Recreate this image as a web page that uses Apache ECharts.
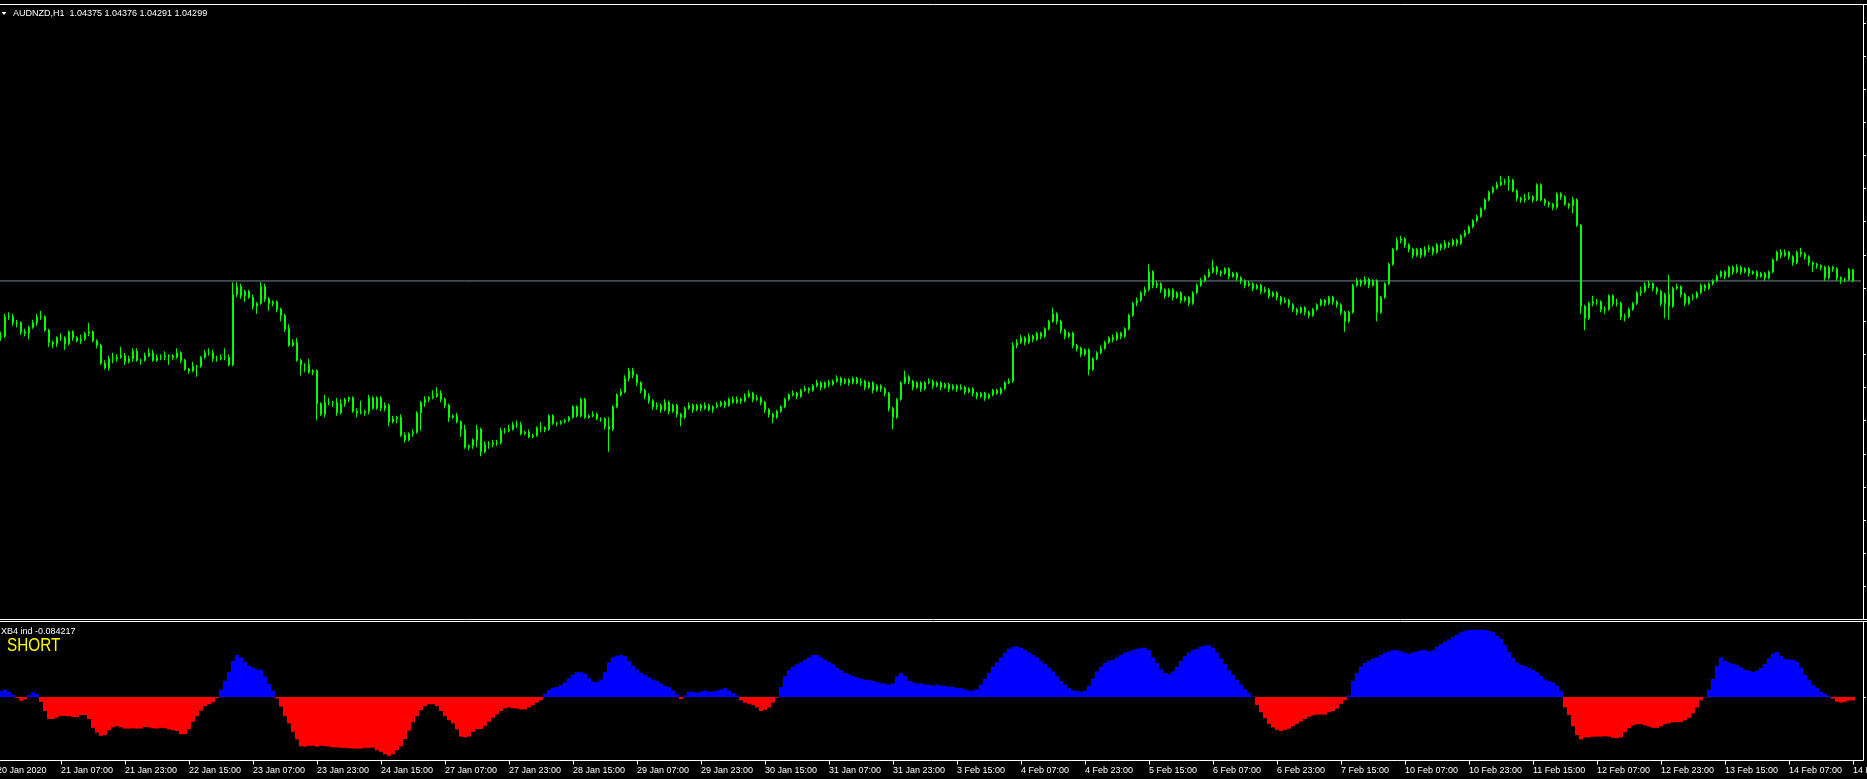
<!DOCTYPE html>
<html>
<head>
<meta charset="utf-8">
<script src="https://cdn.jsdelivr.net/npm/echarts@6/dist/echarts.min.js"></script>
<style>
  html, body { margin: 0; padding: 0; background: #000; }
  #chart { width: 1867px; height: 779px; }
</style>
</head>
<body>
<div id="chart"></div>
<script>
// AUDNZD H1 candles, one per hour from 20 Jan 2020 15:00 to 14 Feb 2020 23:00
const openP = [1.0393,1.0393,1.0393,1.0406,1.0406,1.0402,1.0402,1.0396,1.0395,1.0399,
1.0402,1.0406,1.0406,1.0397,1.0389,1.0388,1.0392,1.0392,1.0388,1.0396,
1.0392,1.0390,1.0391,1.0395,1.0396,1.0390,1.0387,1.0375,1.0372,1.0378,
1.0378,1.0379,1.0380,1.0376,1.0378,1.0383,1.0377,1.0377,1.0380,1.0382,
1.0377,1.0379,1.0379,1.0380,1.0380,1.0379,1.0382,1.0377,1.0371,1.0370,
1.0373,1.0373,1.0379,1.0382,1.0382,1.0378,1.0378,1.0379,1.0379,1.0374,
1.0421,1.0426,1.0420,1.0423,1.0419,1.0413,1.0415,1.0426,1.0418,1.0415,
1.0416,1.0411,1.0407,1.0398,1.0387,1.0389,1.0377,1.0374,1.0374,1.0369,
1.0370,1.0348,1.0341,1.0349,1.0349,1.0349,1.0342,1.0348,1.0351,1.0352,
1.0343,1.0342,1.0342,1.0343,1.0352,1.0345,1.0352,1.0345,1.0347,1.0336,
1.0338,1.0339,1.0327,1.0324,1.0328,1.0329,1.0342,1.0349,1.0351,1.0352,
1.0353,1.0355,1.0351,1.0347,1.0339,1.0340,1.0336,1.0331,1.0319,1.0320,
1.0324,1.0331,1.0316,1.0321,1.0321,1.0322,1.0322,1.0330,1.0330,1.0331,
1.0334,1.0334,1.0328,1.0329,1.0326,1.0327,1.0332,1.0332,1.0331,1.0340,
1.0335,1.0335,1.0336,1.0337,1.0339,1.0346,1.0340,1.0351,1.0339,1.0340,
1.0341,1.0338,1.0338,1.0333,1.0331,1.0346,1.0354,
1.0356,1.0365,1.0370,1.0367,1.0362,1.0357,1.0353,1.0350,1.0346,1.0347,
1.0344,1.0349,1.0343,1.0347,1.0341,1.0339,1.0345,1.0347,1.0344,1.0347,
1.0345,1.0347,1.0344,1.0346,1.0347,1.0349,1.0347,1.0351,1.0349,1.0351,
1.0350,1.0353,1.0355,1.0351,1.0352,1.0349,1.0344,1.0341,1.0339,1.0343,
1.0346,1.0351,1.0354,1.0355,1.0353,1.0357,1.0358,1.0357,1.0360,1.0362,
1.0359,1.0362,1.0361,1.0363,1.0365,1.0362,1.0364,1.0362,1.0365,1.0362,
1.0363,1.0359,1.0362,1.0357,1.0360,1.0358,1.0355,1.0345,1.0339,1.0351,
1.0362,1.0366,1.0363,1.0359,1.0362,1.0358,1.0362,1.0363,1.0360,1.0362,
1.0359,1.0361,1.0358,1.0360,1.0358,1.0359,1.0356,1.0358,1.0355,1.0353,
1.0355,1.0352,1.0354,1.0357,1.0355,1.0358,1.0362,1.0363,1.0387,1.0389,
1.0392,1.0389,1.0393,1.0391,1.0395,1.0393,1.0398,1.0403,1.0408,1.0403,
1.0397,1.0393,1.0395,1.0387,1.0385,1.0381,1.0384,1.0371,1.0378,1.0382,
1.0385,1.0389,1.0392,1.0391,1.0395,1.0393,1.0398,1.0407,1.0415,1.0417,
1.0422,1.0424,1.0436,1.0427,1.0428,1.0424,1.0420,1.0424,1.0419,1.0422,
1.0417,1.0419,1.0415,1.0422,1.0427,1.0430,1.0433,1.0436,1.0439,1.0436,
1.0435,1.0438,1.0433,1.0435,1.0432,1.0430,1.0427,1.0428,1.0425,1.0427,
1.0423,1.0424,1.0420,1.0422,1.0419,1.0416,1.0417,1.0414,1.0411,1.0409,
1.0412,1.0409,1.0407,1.0411,1.0414,1.0417,1.0415,1.0419,1.0416,1.0414,
1.0409,1.0403,1.0409,1.0427,1.0430,1.0428,1.0431,1.0427,1.0430,1.0409,
1.0419,1.0428,1.0441,1.0451,1.0457,1.0458,1.0454,1.0451,1.0447,1.0451,
1.0447,1.0451,1.0452,1.0449,1.0454,1.0452,1.0455,1.0454,1.0457,1.0455,
1.0460,1.0462,1.0466,1.0470,1.0473,1.0478,1.0484,1.0489,1.0492,1.0494,
1.0496,1.0496,1.0497,1.0490,1.0485,1.0484,1.0485,1.0486,1.0484,1.0494,
1.0484,1.0482,1.0481,1.0479,1.0488,1.0486,1.0481,1.0480,1.0484,1.0467,
1.0413,1.0405,1.0415,1.0416,1.0416,1.0411,1.0411,1.0420,1.0415,1.0415,
1.0406,1.0406,1.0411,1.0415,1.0422,1.0423,1.0427,1.0428,1.0425,1.0423,
1.0415,1.0421,1.0413,1.0425,1.0426,1.0421,1.0415,1.0419,1.0419,1.0422,
1.0427,1.0425,1.0428,1.0430,1.0433,1.0436,1.0433,1.0439,1.0436,1.0439,
1.0436,1.0438,1.0435,1.0436,1.0433,1.0435,1.0432,1.0436,1.0444,1.0449,
1.0447,1.0449,1.0446,1.0442,1.0449,1.0448,1.0446,1.0442,1.0441,1.0440,
1.0439,1.0432,1.0439,1.0438,1.0432,1.0431,1.0431,1.04375];
const closeP = [1.0393,1.0393,1.0406,1.0406,1.0402,1.0402,1.0396,1.0395,1.0399,1.0402,
1.0406,1.0406,1.0397,1.0389,1.0388,1.0392,1.0392,1.0388,1.0396,1.0392,
1.0390,1.0391,1.0395,1.0396,1.0390,1.0387,1.0375,1.0372,1.0378,1.0378,
1.0379,1.0380,1.0376,1.0378,1.0383,1.0377,1.0377,1.0380,1.0382,1.0377,
1.0379,1.0379,1.0380,1.0380,1.0379,1.0382,1.0377,1.0371,1.0370,1.0373,
1.0373,1.0379,1.0382,1.0382,1.0378,1.0378,1.0379,1.0379,1.0374,1.0421,
1.0426,1.0420,1.0423,1.0419,1.0413,1.0415,1.0426,1.0418,1.0415,1.0416,
1.0411,1.0407,1.0398,1.0387,1.0389,1.0377,1.0374,1.0374,1.0369,1.0370,
1.0348,1.0341,1.0349,1.0349,1.0349,1.0342,1.0348,1.0351,1.0352,1.0343,
1.0342,1.0342,1.0343,1.0352,1.0345,1.0352,1.0345,1.0347,1.0336,1.0338,
1.0339,1.0327,1.0324,1.0328,1.0329,1.0342,1.0349,1.0351,1.0352,1.0353,
1.0355,1.0351,1.0347,1.0339,1.0340,1.0336,1.0331,1.0319,1.0320,1.0324,
1.0331,1.0316,1.0321,1.0321,1.0322,1.0322,1.0330,1.0330,1.0331,1.0334,
1.0334,1.0328,1.0329,1.0326,1.0327,1.0332,1.0332,1.0331,1.0340,1.0335,
1.0335,1.0336,1.0337,1.0339,1.0346,1.0340,1.0351,1.0339,1.0340,1.0341,
1.0338,1.0338,1.0333,1.0331,1.0346,1.0354,1.0356,
1.0365,1.0370,1.0367,1.0362,1.0357,1.0353,1.0350,1.0346,1.0347,1.0344,
1.0349,1.0343,1.0347,1.0341,1.0339,1.0345,1.0347,1.0344,1.0347,1.0345,
1.0347,1.0344,1.0346,1.0347,1.0349,1.0347,1.0351,1.0349,1.0351,1.0350,
1.0353,1.0355,1.0351,1.0352,1.0349,1.0344,1.0341,1.0339,1.0343,1.0346,
1.0351,1.0354,1.0355,1.0353,1.0357,1.0358,1.0357,1.0360,1.0362,1.0359,
1.0362,1.0361,1.0363,1.0365,1.0362,1.0364,1.0362,1.0365,1.0362,1.0363,
1.0359,1.0362,1.0357,1.0360,1.0358,1.0355,1.0345,1.0339,1.0351,1.0362,
1.0366,1.0363,1.0359,1.0362,1.0358,1.0362,1.0363,1.0360,1.0362,1.0359,
1.0361,1.0358,1.0360,1.0358,1.0359,1.0356,1.0358,1.0355,1.0353,1.0355,
1.0352,1.0354,1.0357,1.0355,1.0358,1.0362,1.0363,1.0387,1.0389,1.0392,
1.0389,1.0393,1.0391,1.0395,1.0393,1.0398,1.0403,1.0408,1.0403,1.0397,
1.0393,1.0395,1.0387,1.0385,1.0381,1.0384,1.0371,1.0378,1.0382,1.0385,
1.0389,1.0392,1.0391,1.0395,1.0393,1.0398,1.0407,1.0415,1.0417,1.0422,
1.0424,1.0436,1.0427,1.0428,1.0424,1.0420,1.0424,1.0419,1.0422,1.0417,
1.0419,1.0415,1.0422,1.0427,1.0430,1.0433,1.0436,1.0439,1.0436,1.0435,
1.0438,1.0433,1.0435,1.0432,1.0430,1.0427,1.0428,1.0425,1.0427,1.0423,
1.0424,1.0420,1.0422,1.0419,1.0416,1.0417,1.0414,1.0411,1.0409,1.0412,
1.0409,1.0407,1.0411,1.0414,1.0417,1.0415,1.0419,1.0416,1.0414,1.0409,
1.0403,1.0409,1.0427,1.0430,1.0428,1.0431,1.0427,1.0430,1.0409,1.0419,
1.0428,1.0441,1.0451,1.0457,1.0458,1.0454,1.0451,1.0447,1.0451,1.0447,
1.0451,1.0452,1.0449,1.0454,1.0452,1.0455,1.0454,1.0457,1.0455,1.0460,
1.0462,1.0466,1.0470,1.0473,1.0478,1.0484,1.0489,1.0492,1.0494,1.0496,
1.0496,1.0497,1.0490,1.0485,1.0484,1.0485,1.0486,1.0484,1.0494,1.0484,
1.0482,1.0481,1.0479,1.0488,1.0486,1.0481,1.0480,1.0484,1.0467,1.0413,
1.0405,1.0415,1.0416,1.0416,1.0411,1.0411,1.0420,1.0415,1.0415,1.0406,
1.0406,1.0411,1.0415,1.0422,1.0423,1.0427,1.0428,1.0425,1.0423,1.0415,
1.0421,1.0413,1.0425,1.0426,1.0421,1.0415,1.0419,1.0419,1.0422,1.0427,
1.0425,1.0428,1.0430,1.0433,1.0436,1.0433,1.0439,1.0436,1.0439,1.0436,
1.0438,1.0435,1.0436,1.0433,1.0435,1.0432,1.0436,1.0444,1.0449,1.0447,
1.0449,1.0446,1.0442,1.0449,1.0448,1.0446,1.0442,1.0441,1.0440,1.0439,
1.0432,1.0439,1.0438,1.0432,1.0431,1.0431,1.04375,1.04299];
const lowP = [1.0390,1.0390,1.0392,1.0404,1.0400,1.0399,1.0394,1.0393,1.0391,1.0398,
1.0400,1.0404,1.0396,1.0386,1.0385,1.0386,1.0390,1.0384,1.0387,1.0390,
1.0389,1.0388,1.0390,1.0393,1.0389,1.0385,1.0374,1.0371,1.0370,1.0375,
1.0376,1.0378,1.0374,1.0375,1.0376,1.0376,1.0374,1.0376,1.0379,1.0376,
1.0376,1.0377,1.0377,1.0374,1.0377,1.0378,1.0375,1.0370,1.0368,1.0369,
1.0366,1.0372,1.0378,1.0380,1.0376,1.0376,1.0377,1.0377,1.0373,1.0373,
1.0419,1.0418,1.0416,1.0418,1.0411,1.0408,1.0414,1.0416,1.0410,1.0413,
1.0409,1.0403,1.0396,1.0386,1.0386,1.0376,1.0367,1.0369,1.0368,1.0367,
1.0337,1.0340,1.0339,1.0347,1.0346,1.0340,1.0341,1.0346,1.0349,1.0342,
1.0339,1.0341,1.0340,1.0341,1.0344,1.0344,1.0343,1.0343,1.0333,1.0335,
1.0335,1.0326,1.0322,1.0323,1.0326,1.0328,1.0330,1.0346,1.0349,1.0351,
1.0352,1.0349,1.0345,1.0336,1.0338,1.0335,1.0326,1.0318,1.0317,1.0318,
1.0319,1.0313,1.0315,1.0318,1.0319,1.0320,1.0321,1.0328,1.0329,1.0330,
1.0332,1.0327,1.0327,1.0325,1.0325,1.0326,1.0329,1.0329,1.0330,1.0334,
1.0333,1.0334,1.0335,1.0336,1.0338,1.0339,1.0339,1.0338,1.0338,1.0339,
1.0337,1.0336,1.0331,1.0316,1.0330,1.0345,1.0353,
1.0355,1.0363,1.0365,1.0360,1.0355,1.0351,1.0348,1.0344,1.0344,1.0342,
1.0343,1.0341,1.0342,1.0339,1.0333,1.0338,1.0344,1.0342,1.0343,1.0343,
1.0344,1.0343,1.0342,1.0345,1.0346,1.0345,1.0346,1.0348,1.0348,1.0348,
1.0349,1.0352,1.0349,1.0350,1.0347,1.0342,1.0339,1.0335,1.0338,1.0342,
1.0345,1.0350,1.0353,1.0351,1.0352,1.0356,1.0355,1.0356,1.0359,1.0357,
1.0358,1.0359,1.0360,1.0362,1.0360,1.0361,1.0360,1.0361,1.0361,1.0360,
1.0357,1.0358,1.0355,1.0356,1.0356,1.0353,1.0343,1.0331,1.0338,1.0350,
1.0361,1.0361,1.0357,1.0358,1.0356,1.0357,1.0361,1.0358,1.0359,1.0357,
1.0358,1.0356,1.0357,1.0356,1.0357,1.0354,1.0355,1.0353,1.0351,1.0352,
1.0350,1.0351,1.0353,1.0354,1.0354,1.0357,1.0361,1.0362,1.0385,1.0388,
1.0387,1.0388,1.0389,1.0390,1.0391,1.0392,1.0397,1.0402,1.0401,1.0395,
1.0391,1.0392,1.0385,1.0383,1.0379,1.0380,1.0367,1.0370,1.0377,1.0381,
1.0384,1.0388,1.0389,1.0390,1.0391,1.0392,1.0397,1.0406,1.0413,1.0416,
1.0420,1.0423,1.0425,1.0425,1.0422,1.0418,1.0419,1.0417,1.0418,1.0415,
1.0416,1.0413,1.0414,1.0421,1.0426,1.0429,1.0432,1.0435,1.0434,1.0433,
1.0434,1.0431,1.0432,1.0430,1.0428,1.0425,1.0426,1.0423,1.0424,1.0421,
1.0422,1.0418,1.0419,1.0417,1.0414,1.0415,1.0412,1.0409,1.0407,1.0408,
1.0407,1.0405,1.0406,1.0410,1.0413,1.0413,1.0414,1.0414,1.0412,1.0407,
1.0396,1.0402,1.0408,1.0426,1.0426,1.0427,1.0425,1.0426,1.0403,1.0408,
1.0418,1.0427,1.0440,1.0450,1.0455,1.0452,1.0449,1.0445,1.0446,1.0445,
1.0446,1.0449,1.0447,1.0448,1.0450,1.0451,1.0452,1.0453,1.0453,1.0454,
1.0459,1.0461,1.0465,1.0469,1.0472,1.0477,1.0483,1.0488,1.0491,1.0493,
1.0494,1.0490,1.0489,1.0483,1.0482,1.0482,1.0484,1.0482,1.0483,1.0483,
1.0480,1.0479,1.0477,1.0478,1.0484,1.0480,1.0478,1.0475,1.0466,1.0408,
1.0397,1.0404,1.0413,1.0414,1.0409,1.0408,1.0410,1.0413,1.0413,1.0404,
1.0403,1.0405,1.0410,1.0414,1.0420,1.0422,1.0425,1.0423,1.0421,1.0413,
1.0405,1.0404,1.0412,1.0424,1.0419,1.0413,1.0414,1.0417,1.0418,1.0421,
1.0423,1.0424,1.0427,1.0429,1.0432,1.0431,1.0432,1.0434,1.0435,1.0434,
1.0435,1.0433,1.0434,1.0431,1.0432,1.0430,1.0431,1.0435,1.0443,1.0445,
1.0446,1.0444,1.0440,1.0441,1.0446,1.0444,1.0440,1.0436,1.0438,1.0437,
1.0430,1.0431,1.0436,1.0430,1.0428,1.0429,1.0430,1.04291];
const highP = [1.0395,1.0396,1.0408,1.0409,1.0408,1.0404,1.0403,1.0398,1.0400,1.0404,
1.0408,1.0410,1.0407,1.0398,1.0390,1.0393,1.0395,1.0393,1.0397,1.0397,
1.0393,1.0394,1.0396,1.0402,1.0397,1.0391,1.0388,1.0377,1.0380,1.0382,
1.0381,1.0386,1.0382,1.0380,1.0385,1.0385,1.0378,1.0382,1.0385,1.0384,
1.0381,1.0381,1.0383,1.0381,1.0381,1.0385,1.0383,1.0378,1.0372,1.0376,
1.0374,1.0380,1.0384,1.0385,1.0384,1.0380,1.0381,1.0385,1.0381,1.0429,
1.0429,1.0428,1.0424,1.0424,1.0421,1.0416,1.0429,1.0428,1.0419,1.0417,
1.0417,1.0412,1.0408,1.0401,1.0391,1.0392,1.0378,1.0375,1.0378,1.0371,
1.0371,1.0349,1.0354,1.0352,1.0350,1.0352,1.0351,1.0352,1.0353,1.0353,
1.0345,1.0350,1.0344,1.0354,1.0353,1.0353,1.0353,1.0349,1.0348,1.0340,
1.0340,1.0341,1.0329,1.0329,1.0331,1.0343,1.0350,1.0353,1.0353,1.0357,
1.0359,1.0357,1.0352,1.0348,1.0341,1.0342,1.0337,1.0334,1.0321,1.0325,
1.0334,1.0332,1.0323,1.0323,1.0324,1.0324,1.0332,1.0332,1.0334,1.0336,
1.0337,1.0336,1.0330,1.0331,1.0328,1.0333,1.0336,1.0333,1.0341,1.0341,
1.0336,1.0337,1.0338,1.0340,1.0347,1.0347,1.0352,1.0352,1.0341,1.0343,
1.0342,1.0339,1.0339,1.0339,1.0347,1.0355,1.0358,
1.0367,1.0372,1.0372,1.0368,1.0363,1.0358,1.0355,1.0351,1.0349,1.0348,
1.0351,1.0350,1.0348,1.0348,1.0342,1.0346,1.0349,1.0348,1.0348,1.0348,
1.0349,1.0348,1.0347,1.0349,1.0350,1.0350,1.0352,1.0353,1.0353,1.0352,
1.0355,1.0357,1.0356,1.0354,1.0353,1.0350,1.0345,1.0342,1.0344,1.0347,
1.0352,1.0355,1.0357,1.0356,1.0358,1.0360,1.0359,1.0361,1.0364,1.0363,
1.0363,1.0364,1.0364,1.0367,1.0366,1.0365,1.0365,1.0366,1.0366,1.0365,
1.0364,1.0363,1.0363,1.0361,1.0361,1.0359,1.0356,1.0346,1.0352,1.0363,
1.0370,1.0367,1.0364,1.0363,1.0363,1.0363,1.0365,1.0364,1.0363,1.0363,
1.0362,1.0362,1.0361,1.0361,1.0361,1.0360,1.0359,1.0359,1.0356,1.0356,
1.0356,1.0355,1.0358,1.0358,1.0359,1.0363,1.0365,1.0389,1.0391,1.0394,
1.0393,1.0395,1.0394,1.0396,1.0396,1.0399,1.0404,1.0412,1.0409,1.0404,
1.0398,1.0396,1.0396,1.0388,1.0386,1.0385,1.0385,1.0379,1.0383,1.0387,
1.0390,1.0393,1.0394,1.0396,1.0396,1.0399,1.0408,1.0416,1.0419,1.0423,
1.0426,1.0441,1.0437,1.0430,1.0429,1.0425,1.0425,1.0425,1.0423,1.0423,
1.0420,1.0420,1.0423,1.0428,1.0432,1.0434,1.0438,1.0444,1.0440,1.0437,
1.0439,1.0439,1.0436,1.0436,1.0433,1.0431,1.0430,1.0429,1.0428,1.0428,
1.0426,1.0425,1.0423,1.0423,1.0420,1.0419,1.0418,1.0415,1.0412,1.0413,
1.0413,1.0410,1.0412,1.0415,1.0418,1.0418,1.0420,1.0420,1.0417,1.0415,
1.0410,1.0410,1.0428,1.0432,1.0431,1.0433,1.0432,1.0431,1.0431,1.0420,
1.0429,1.0442,1.0452,1.0459,1.0460,1.0459,1.0455,1.0452,1.0452,1.0452,
1.0453,1.0454,1.0453,1.0455,1.0455,1.0457,1.0456,1.0458,1.0458,1.0461,
1.0464,1.0467,1.0471,1.0474,1.0479,1.0485,1.0490,1.0493,1.0496,1.0500,
1.0498,1.0500,1.0498,1.0491,1.0486,1.0488,1.0489,1.0487,1.0495,1.0495,
1.0485,1.0483,1.0482,1.0489,1.0489,1.0487,1.0482,1.0486,1.0485,1.0468,
1.0414,1.0416,1.0420,1.0418,1.0417,1.0413,1.0421,1.0421,1.0418,1.0416,
1.0408,1.0412,1.0416,1.0423,1.0426,1.0429,1.0430,1.0429,1.0426,1.0424,
1.0422,1.0434,1.0426,1.0428,1.0427,1.0422,1.0420,1.0421,1.0423,1.0428,
1.0428,1.0429,1.0431,1.0434,1.0437,1.0437,1.0440,1.0440,1.0441,1.0440,
1.0439,1.0439,1.0437,1.0437,1.0436,1.0436,1.0437,1.0445,1.0450,1.0451,
1.0451,1.0450,1.0447,1.0450,1.0452,1.0449,1.0447,1.0443,1.0442,1.0441,
1.0440,1.0440,1.0440,1.0439,1.0433,1.0432,1.04385,1.04376];

// XB4 ind histogram, one value per candle
const xb4 = [0.15,0.15,0.18,0.13,0.05,-0.03,-0.09,-0.06,0.05,0.12,
0.08,-0.12,-0.35,-0.55,-0.55,-0.51,-0.47,-0.47,-0.48,-0.50,
-0.50,-0.45,-0.45,-0.55,-0.77,-0.89,-0.97,-0.95,-0.83,-0.76,
-0.73,-0.76,-0.79,-0.79,-0.78,-0.79,-0.79,-0.75,-0.76,-0.78,
-0.79,-0.77,-0.78,-0.81,-0.83,-0.85,-0.93,-0.93,-0.81,-0.62,
-0.48,-0.34,-0.23,-0.18,-0.13,-0.03,0.18,0.40,0.63,0.90,
1.05,0.99,0.88,0.78,0.73,0.69,0.68,0.51,0.33,0.16,
-0.04,-0.24,-0.48,-0.66,-0.87,-1.06,-1.23,-1.24,-1.22,-1.22,
-1.24,-1.22,-1.23,-1.24,-1.26,-1.26,-1.27,-1.27,-1.28,-1.29,
-1.29,-1.29,-1.27,-1.27,-1.27,-1.33,-1.37,-1.43,-1.47,-1.43,
-1.33,-1.23,-1.05,-0.84,-0.63,-0.48,-0.33,-0.23,-0.18,-0.18,
-0.23,-0.35,-0.48,-0.58,-0.66,-0.81,-0.99,-1.01,-0.99,-0.87,
-0.80,-0.80,-0.72,-0.62,-0.52,-0.43,-0.35,-0.28,-0.26,-0.28,
-0.29,-0.31,-0.31,-0.26,-0.20,-0.14,-0.08,0.08,0.18,0.23,
0.25,0.30,0.37,0.47,0.56,0.62,0.62,0.58,0.47,0.38,
0.38,0.44,0.63,0.87,0.99,1.03,
1.05,1.02,0.90,0.78,0.69,0.60,0.55,0.49,0.43,0.40,
0.34,0.28,0.25,0.16,0.07,-0.05,0.04,0.13,0.13,0.10,
0.13,0.16,0.13,0.13,0.16,0.19,0.22,0.16,0.10,0.04,
-0.08,-0.14,-0.17,-0.20,-0.26,-0.35,-0.32,-0.26,-0.14,-0.02,
0.25,0.52,0.67,0.76,0.82,0.87,0.93,0.99,1.05,1.05,
0.99,0.93,0.87,0.82,0.73,0.67,0.60,0.57,0.52,0.49,
0.46,0.43,0.43,0.40,0.37,0.34,0.34,0.31,0.34,0.52,
0.60,0.52,0.40,0.37,0.34,0.34,0.31,0.31,0.28,0.31,
0.28,0.28,0.25,0.25,0.22,0.22,0.19,0.16,0.16,0.19,
0.31,0.46,0.60,0.76,0.87,0.99,1.11,1.20,1.26,1.26,
1.23,1.17,1.11,1.05,0.99,0.90,0.82,0.73,0.64,0.52,
0.40,0.31,0.22,0.16,0.16,0.13,0.16,0.28,0.46,0.64,
0.76,0.85,0.90,0.93,0.99,1.05,1.11,1.14,1.17,1.20,
1.23,1.23,1.17,0.99,0.85,0.69,0.60,0.57,0.64,0.76,
0.90,1.02,1.11,1.17,1.20,1.26,1.29,1.29,1.23,1.11,
0.96,0.82,0.67,0.55,0.43,0.31,0.19,0.10,0.01,-0.20,
-0.38,-0.53,-0.67,-0.76,-0.82,-0.85,-0.82,-0.79,-0.73,-0.67,
-0.61,-0.55,-0.49,-0.46,-0.44,-0.44,-0.44,-0.38,-0.35,-0.29,
-0.17,-0.08,0.04,0.40,0.60,0.76,0.85,0.90,0.96,0.99,
1.05,1.11,1.14,1.17,1.17,1.14,1.11,1.08,1.11,1.14,
1.17,1.17,1.14,1.17,1.26,1.32,1.38,1.44,1.50,1.56,
1.62,1.65,1.68,1.68,1.68,1.68,1.68,1.65,1.62,1.53,
1.45,1.30,1.13,0.98,0.86,0.80,0.78,0.72,0.68,0.62,
0.53,0.44,0.40,0.36,0.28,0.15,-0.26,-0.45,-0.73,-0.95,
-1.06,-1.01,-1.01,-0.99,-0.99,-0.99,-0.98,-0.99,-1.02,-1.03,
-1.01,-0.88,-0.78,-0.71,-0.68,-0.68,-0.71,-0.74,-0.77,-0.77,
-0.73,-0.68,-0.66,-0.63,-0.63,-0.63,-0.58,-0.52,-0.41,-0.26,
-0.08,-0.01,0.18,0.45,0.78,0.99,0.90,0.86,0.83,0.80,
0.74,0.68,0.66,0.63,0.66,0.73,0.83,0.97,1.09,1.13,
1.03,0.95,0.94,0.93,0.88,0.74,0.55,0.43,0.30,0.23,
0.13,0.08,0.03,-0.04,-0.12,-0.14,-0.12,-0.09,-0.084217];

const tickLabels = ['20 Jan 2020','21 Jan 07:00','21 Jan 23:00','22 Jan 15:00','23 Jan 07:00','23 Jan 23:00',
  '24 Jan 15:00','27 Jan 07:00','27 Jan 23:00','28 Jan 15:00','29 Jan 07:00','29 Jan 23:00','30 Jan 15:00',
  '31 Jan 07:00','31 Jan 23:00','3 Feb 15:00','4 Feb 07:00','4 Feb 23:00','5 Feb 15:00','6 Feb 07:00',
  '6 Feb 23:00','7 Feb 15:00','10 Feb 07:00','10 Feb 23:00','11 Feb 15:00','12 Feb 07:00','12 Feb 23:00',
  '13 Feb 15:00','14 Feb 07:00','14 Feb 23:00'];
const barsPerLabel = 16;
const slotCount = 467;          // 465 bars plus a small right shift
const bidPrice = 1.04299;
const titleText = 'AUDNZD,H1  1.04375 1.04376 1.04291 1.04299';
const indText = 'XB4 ind -0.084217';

const cats = [];
for (let i = 0; i < slotCount; i++) cats.push(i);
const candleData = closeP.map((c, i) => [openP[i], c, lowP[i], highP[i]]);
const xb4Up = xb4.map(v => v > 0 ? v : '-');
const xb4Down = xb4.map(v => v < 0 ? v : '-');
const showTick = i => i % barsPerLabel === 0 && i / barsPerLabel < tickLabels.length;
const font = 'Liberation Sans';

const chart = echarts.init(document.getElementById('chart'));
const frame = (x1, y1, x2, y2) => ({
  type: 'line', silent: true, z: 100,
  shape: { x1: x1, y1: y1, x2: x2, y2: y2 },
  style: { stroke: '#ffffff', lineWidth: 1 }
});

chart.setOption({
  backgroundColor: '#000000',
  animation: false,
  grid: [
    { left: -5, top: 4.5, width: 1868, height: 615, containLabel: false, outerBoundsMode: 'none' },
    { left: -5, top: 621.5, width: 1868, height: 139, containLabel: false, outerBoundsMode: 'none' }
  ],
  xAxis: [
    { type: 'category', gridIndex: 0, data: cats, show: false },
    {
      type: 'category', gridIndex: 1, data: cats,
      axisLine: { show: false, onZero: false },
      axisTick: { show: true, alignWithLabel: true, interval: showTick, length: 4, lineStyle: { color: '#ffffff' } },
      axisLabel: {
        interval: showTick, align: 'left', alignMinLabel: 'left', alignMaxLabel: 'left',
        margin: 6, color: '#ffffff', fontFamily: font, fontSize: 9,
        formatter: (v, i) => tickLabels[i / barsPerLabel]
      },
      splitLine: { show: false }
    }
  ],
  yAxis: [
    { type: 'value', gridIndex: 0, min: 1.02042, max: 1.06142, show: false },
    {
      type: 'value', gridIndex: 0, position: 'right', min: 0, max: 615, interval: 33.15,
      axisLine: { show: false }, axisLabel: { show: false }, splitLine: { show: false },
      axisTick: { show: true, length: 3, lineStyle: { color: '#ffffff' } }
    },
    { type: 'value', gridIndex: 1, min: -1.5875, max: 1.8875, show: false },
    {
      type: 'value', gridIndex: 1, position: 'right', min: -1.5875, max: 1.8875,
      axisLine: { show: false }, axisLabel: { show: false }, splitLine: { show: false },
      axisTick: { show: true, length: 3, customValues: [0], lineStyle: { color: '#ffffff' } }
    }
  ],
  series: [
    {
      type: 'candlestick', xAxisIndex: 0, yAxisIndex: 0, data: candleData, barWidth: 2,
      itemStyle: {
        color: '#000000', color0: '#ffffff',
        borderColor: '#00ff00', borderColor0: '#00ff00', borderColorDoji: '#00ff00', borderWidth: 1
      }
    },
    {
      // bid line
      type: 'line', xAxisIndex: 0, yAxisIndex: 0, silent: true, symbol: 'none',
      data: [[0, bidPrice], [slotCount - 1, bidPrice]],
      lineStyle: { color: '#778899', width: 1 }, z: 1
    },
    {
      type: 'bar', xAxisIndex: 1, yAxisIndex: 2, data: xb4Up, barWidth: 4, barGap: '-100%',
      itemStyle: { color: '#0000ff' }
    },
    {
      type: 'bar', xAxisIndex: 1, yAxisIndex: 2, data: xb4Down, barWidth: 4, barGap: '-100%',
      itemStyle: { color: '#ff0000' }
    }
  ],
  graphic: [
    { type: 'polygon', silent: true, shape: { points: [[1.5, 12], [6.5, 12], [4, 15]] }, style: { fill: '#ffffff' } },
    { type: 'text', silent: true, x: 13, y: 9.3, style: { text: titleText, fill: '#ffffff', fontFamily: font, fontSize: 9, verticalAlign: 'top' } },
    { type: 'text', silent: true, x: 1, y: 627.3, style: { text: indText, fill: '#ffffff', fontFamily: font, fontSize: 9, verticalAlign: 'top' } },
    { type: 'text', silent: true, x: 7, y: 636.5, scaleY: 1.21, style: { text: 'SHORT', fill: '#ffff00', fontFamily: font, fontSize: 15.3, verticalAlign: 'top' } },
    frame(0, 4.5, 1867, 4.5),
    frame(1863.5, 4.5, 1863.5, 619.5),
    frame(0, 619.5, 1867, 619.5),
    frame(0, 621.5, 1867, 621.5),
    frame(1863.5, 621.5, 1863.5, 760.5),
    frame(0, 760.5, 1863.5, 760.5)
  ]
});
</script>
</body>
</html>
